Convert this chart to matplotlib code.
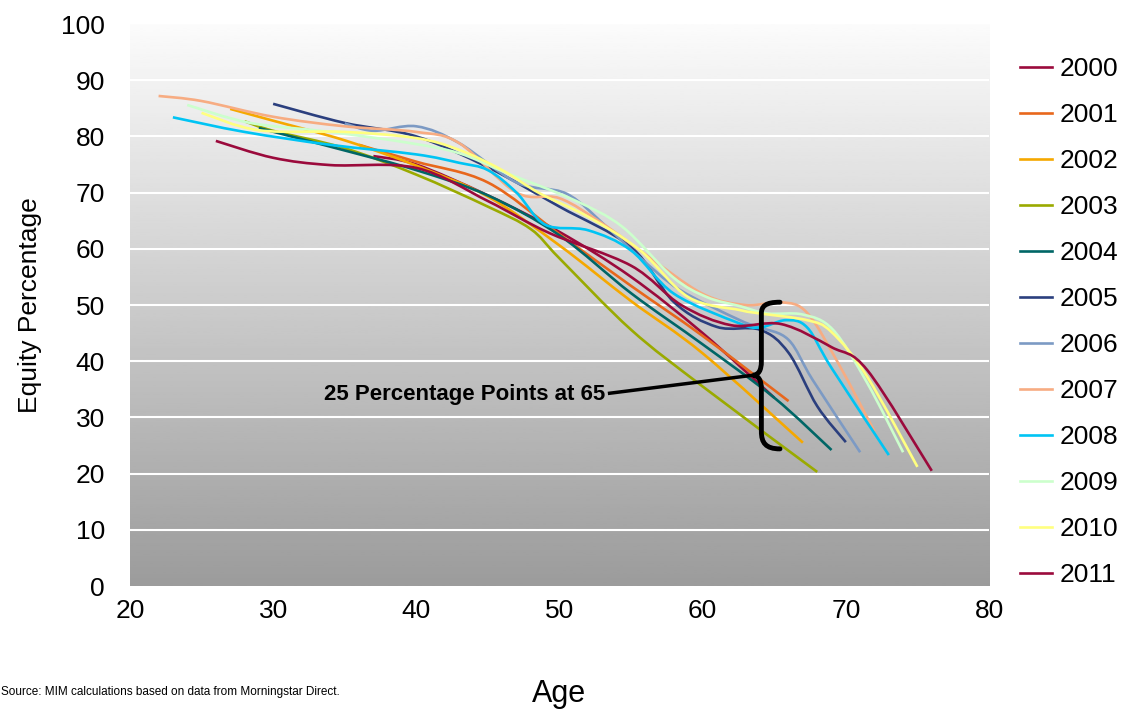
import numpy as np
import matplotlib
matplotlib.use("Agg")
import matplotlib.pyplot as plt
from matplotlib.path import Path
from matplotlib.patches import PathPatch
from matplotlib.lines import Line2D

plt.rcParams['font.family'] = ['Liberation Sans', 'DejaVu Sans']

# Glide paths: (age, equity %) per series year
years = ["2000", "2001", "2002", "2003", "2004", "2005",
         "2006", "2007", "2008", "2009", "2010", "2011"]

ages_2000 = [37, 40, 45, 50, 55, 60, 65]
pct_2000 = [76.5, 75, 69.5, 63, 55, 45, 33.5]

ages_2001 = [36, 40, 45, 50, 55, 60, 66]
pct_2001 = [78.5, 75.5, 71.8, 62.6, 53.4, 44.5, 32.9]

ages_2002 = [27, 30, 35, 40, 45, 50, 55, 60, 67]
pct_2002 = [84.9, 82.8, 79.3, 74.8, 69.3, 60.6, 50.7, 41.4, 25.5]

ages_2003 = [28, 30, 35, 40, 45, 48, 50, 55, 60, 68]
pct_2003 = [82.7, 81, 77.9, 73.2, 67.5, 63.5, 58.3, 45.6, 35.5, 20.3]

ages_2004 = [29, 35, 40, 45, 50, 55, 60, 65, 69]
pct_2004 = [81.5, 77.5, 74, 69.5, 62.4, 52.1, 43, 33.5, 24.2]

ages_2005 = [30, 35, 40, 45, 50, 55, 58, 61, 64, 66, 68, 70]
pct_2005 = [85.8, 82.4, 80, 74.5, 67.5, 60.3, 50.5, 46.1, 45.6, 41.5, 32, 25.6]

ages_2006 = [35, 37, 40, 43, 47, 50.5, 53.3, 55.6, 58.4, 62.6, 64, 66, 67.7, 71]
pct_2006 = [82.3, 81, 81.8, 78.8, 71.8, 69.8, 63.9, 58.5, 52.7, 47.3, 46, 43.8, 36.6, 23.8]

ages_2007 = [22, 25, 30, 35, 40, 43, 47, 50, 53, 56, 60, 63, 65.5, 67.3, 69.5, 72]
pct_2007 = [87.2, 86.3, 83.5, 81.8, 80.8, 78.8, 70, 69, 64.5, 59, 52, 50, 50.5, 48.6, 39.5, 27.5]

ages_2008 = [23, 28, 34, 40, 43, 45, 47, 49, 52, 55, 58, 62.5, 64, 65.8, 67.3, 69, 73]
pct_2008 = [83.4, 80.8, 78.5, 76.8, 75.3, 74, 70, 64.3, 63.3, 59.7, 52, 46.8, 46, 47.3, 46, 38.8, 23.3]

ages_2009 = [24, 28.4, 34, 39.6, 43, 46.3, 51, 54.4, 57.9, 60.3, 62.6, 64.5, 67, 69.1, 71.5, 74]
pct_2009 = [85.6, 82.4, 80.8, 78.8, 77, 73.5, 68.7, 63.9, 55, 51.4, 49.8, 48.5, 48.3, 45.6, 36.1, 23.8]

ages_2010 = [25, 29, 35, 40, 43, 46, 48.6, 52, 55.6, 59, 62.6, 64, 67.3, 69, 71.5, 75]
pct_2010 = [84.2, 81.1, 80.8, 79.7, 77.6, 74, 69.9, 65.7, 59.8, 51.4, 49.1, 48.5, 47.3, 45.2, 37.2, 21.2]

ages_2011 = [26, 30, 34, 40, 45, 49.3, 55, 58.5, 62, 65.5, 69, 71.5, 76]
pct_2011 = [79.2, 76.2, 74.9, 74.4, 68.5, 62.8, 57, 50, 46.4, 46.6, 42.5, 38.4, 20.5]

colors = ["#9B0A3C", "#E8671C", "#F5A800", "#9AAA00", "#006666", "#2B3F7E",
          "#7C9AC4", "#F7AC82", "#00C4F4", "#CCFFCC", "#FFFF80", "#9B0A3C"]

series = [(ages_2000, pct_2000), (ages_2001, pct_2001), (ages_2002, pct_2002),
          (ages_2003, pct_2003), (ages_2004, pct_2004), (ages_2005, pct_2005),
          (ages_2006, pct_2006), (ages_2007, pct_2007), (ages_2008, pct_2008),
          (ages_2009, pct_2009), (ages_2010, pct_2010), (ages_2011, pct_2011)]


def smooth_path(xs, ys):
    # Excel-style smoothed line: cubic Bezier through every point
    pts = np.column_stack([xs, ys]).astype(float)
    n = len(pts)
    verts = [pts[0]]
    codes = [Path.MOVETO]
    for i in range(n - 1):
        p0 = pts[max(i - 1, 0)]
        p1 = pts[i]
        p2 = pts[i + 1]
        p3 = pts[min(i + 2, n - 1)]
        verts += [p1 + (p2 - p0) / 6.0, p2 - (p3 - p1) / 6.0, p2]
        codes += [Path.CURVE4] * 3
    return Path(verts, codes)


fig = plt.figure(figsize=(11.28, 7.11), dpi=100)
ax = fig.add_axes([0.1152, 0.1758, 0.7616, 0.7904])

# grey gradient background
grad = np.linspace(0.985, 0.61, 256).reshape(-1, 1)
ax.imshow(grad, cmap="gray", vmin=0, vmax=1, extent=[20, 80, 0, 100],
          aspect="auto", zorder=0)

for yv in range(10, 100, 10):
    ax.axhline(yv, color="white", lw=1.5, zorder=1)

handles = []
for (xs, ys), c, yr in zip(series, colors, years):
    ax.add_patch(PathPatch(smooth_path(xs, ys), facecolor="none", edgecolor=c,
                           lw=1.9, zorder=2, capstyle="butt"))
    handles.append(Line2D([], [], color=c, lw=1.9, label=yr))

# curly brace marking the spread at 65
brace = Path(
    [(65.4, 50.5), (64.4, 50.5), (64.1, 49.8), (64.1, 48.5),
     (64.1, 40.0),
     (64.1, 38.3), (63.9, 37.6), (63.5, 37.5),
     (63.9, 37.4), (64.1, 36.7), (64.1, 35.0),
     (64.1, 27.5),
     (64.1, 25.5), (64.4, 24.4), (65.4, 24.4)],
    [Path.MOVETO, Path.CURVE4, Path.CURVE4, Path.CURVE4,
     Path.LINETO,
     Path.CURVE4, Path.CURVE4, Path.CURVE4,
     Path.CURVE4, Path.CURVE4, Path.CURVE4,
     Path.LINETO,
     Path.CURVE4, Path.CURVE4, Path.CURVE4])
ax.add_patch(PathPatch(brace, facecolor="none", edgecolor="black", lw=3.5,
                       zorder=4, capstyle="round"))
ax.plot([53.5, 63.5], [34.3, 37.5], color="black", lw=2.5, zorder=4)
ax.text(53.2, 34.0, "25 Percentage Points at 65", ha="right", va="center",
        fontsize=16, fontweight="bold", zorder=5)

ax.set_xlim(20, 80)
ax.set_ylim(0, 100)
ax.set_xticks(range(20, 81, 10))
ax.set_yticks(range(0, 101, 10))
for s in ax.spines.values():
    s.set_visible(False)
ax.tick_params(length=0, labelsize=19)
ax.tick_params(axis="x", pad=9)
ax.tick_params(axis="y", pad=18)
ax.set_xlabel("Age", fontsize=22)
ax.xaxis.set_label_coords(0.5, -0.165)
ax.set_ylabel("Equity Percentage", fontsize=19)
ax.yaxis.set_label_coords(-0.116, 0.5)
ax.yaxis.label.set_va("center")

fig.legend(handles=handles, loc="upper left", bbox_to_anchor=(0.895, 0.935),
           frameon=False, fontsize=19, handlelength=1.2, handletextpad=0.3,
           labelspacing=0.835, borderpad=0.4, borderaxespad=0)

fig.text(0.001, 0.027, "Source: MIM calculations based on data from Morningstar Direct.",
         fontsize=8.5, ha="left", va="center")

fig.savefig("out.png", dpi=100)
